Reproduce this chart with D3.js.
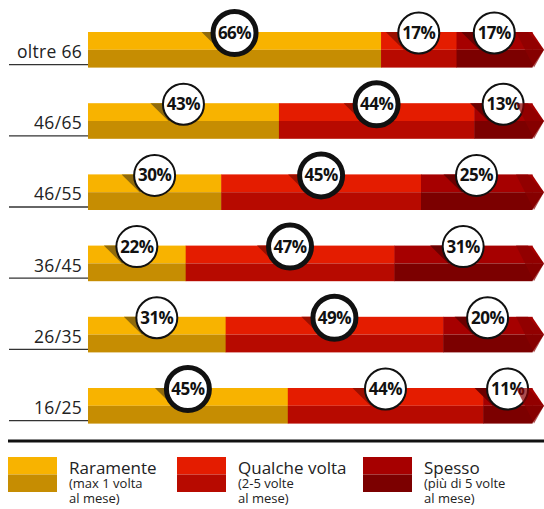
<!DOCTYPE html>
<html>
<head>
<meta charset="utf-8">
<script src="https://cdn.jsdelivr.net/npm/d3@7"></script>
<style>
  html, body { margin: 0; padding: 0; background: #fff; }
  svg { display: block; font-family: "Open Sans", sans-serif; }
  .age-label { font-size: 17.5px; fill: #222; letter-spacing: 0.3px; }
  .bubble-text { font-size: 17px; font-weight: 700; fill: #111; letter-spacing: -0.5px; }
  .legend-title { font-size: 17px; fill: #222; }
  .legend-sub { font-size: 13px; fill: #222; }
</style>
</head>
<body>
<svg id="chart" width="544" height="509"></svg>
<script>
"use strict";

// Data.
const ageGroups = ["oltre 66", "46/65", "46/55", "36/45", "26/35", "16/25"];
const raramente = [66, 43, 30, 22, 31, 45];
const qualcheVolta = [17, 44, 45, 47, 49, 44];
const spesso = [17, 13, 25, 31, 20, 11];

const seriesNames = ["Raramente", "Qualche volta", "Spesso"];
const seriesNotes = [
  ["(max 1 volta", "al mese)"],
  ["(2-5 volte", "al mese)"],
  ["(più di 5 volte", "al mese)"]
];

const palette = [
  { top: "#f8b300", bottom: "#c68d02", shadow: "#8f6a0c" },
  { top: "#e41c00", bottom: "#b70a00", shadow: "#9a0f00" },
  { top: "#a60000", bottom: "#7c0000", shadow: "#6a0000" }
];

const svg = d3.select("#chart");

const x = d3.scaleLinear().domain([0, 100]).range([88, 532]);
const y = d3.scaleBand()
    .domain(ageGroups)
    .range([32, 423.6])
    .paddingInner(0.5)
    .paddingOuter(0);
const bh = y.bandwidth();

// Build stacked rows.
const rows = ageGroups.map((g, i) => {
  const vals = [raramente[i], qualcheVolta[i], spesso[i]];
  const max = d3.max(vals);
  let acc = 0;
  const segs = vals.map((v, k) => {
    const s = { group: g, k: k, value: v, x0: acc, x1: acc + v, big: v === max };
    acc += v;
    return s;
  });
  return { group: g, segs: segs };
});

const row = svg.selectAll("g.row")
    .data(rows)
    .enter().append("g")
    .attr("class", "row")
    .attr("transform", (d) => "translate(0," + y(d.group) + ")");

// Label underline + label.
row.append("line")
    .attr("x1", 9).attr("x2", x(0))
    .attr("y1", bh - 3).attr("y2", bh - 3)
    .attr("stroke", "#333")
    .attr("stroke-width", 1.3);

row.append("text")
    .attr("class", "age-label")
    .attr("x", 82)
    .attr("y", bh - 9.5)
    .attr("text-anchor", "end")
    .text((d) => d.group);

// Segments: light upper half, dark lower half.
const seg = row.selectAll("g.seg")
    .data((d) => d.segs)
    .enter().append("g")
    .attr("class", "seg");

seg.append("rect")
    .attr("x", (d) => x(d.x0))
    .attr("width", (d) => x(d.x1) - x(d.x0) + 0.5)
    .attr("y", 0)
    .attr("height", bh / 2)
    .attr("fill", (d) => palette[d.k].top);

seg.append("rect")
    .attr("x", (d) => x(d.x0))
    .attr("width", (d) => x(d.x1) - x(d.x0) + 0.5)
    .attr("y", bh / 2)
    .attr("height", bh / 2)
    .attr("fill", (d) => palette[d.k].bottom);

// Arrow tip at the end of each bar.
const xEnd = x(100);
row.append("polygon")
    .attr("points", [[xEnd, 0], [xEnd + 12, bh / 2], [xEnd, bh / 2]].join(" "))
    .attr("fill", palette[2].top);
row.append("polygon")
    .attr("points", [[xEnd, bh / 2], [xEnd + 12, bh / 2], [xEnd, bh]].join(" "))
    .attr("fill", palette[2].bottom);
row.append("polygon")
    .attr("points", [[xEnd - 16, 0], [xEnd - 4, 0], [xEnd + 12, bh / 2], [xEnd + 2, bh]].join(" "))
    .attr("fill", "#8a0000")
    .attr("opacity", 0.7);

// Bubble shadows.
const cx = (d) => (x(d.x0) + x(d.x1)) / 2;
seg.append("polygon")
    .attr("points", (d) => [
      [cx(d) - 33, 0], [cx(d), 0], [cx(d), bh / 2], [cx(d) - 15, bh / 2]
    ].join(" "))
    .attr("fill", (d) => palette[d.k].shadow);

// Bubbles.
seg.append("circle")
    .attr("cx", cx)
    .attr("cy", 1)
    .attr("r", (d) => d.big ? 21.5 : 20.5)
    .attr("fill", "#fff")
    .attr("stroke", "#111")
    .attr("stroke-width", (d) => d.big ? 5 : 2);

seg.append("text")
    .attr("class", "bubble-text")
    .attr("x", cx)
    .attr("y", 7)
    .attr("text-anchor", "middle")
    .text((d) => d.value + "%");

// Legend.
svg.append("line")
    .attr("x1", 8).attr("x2", 544)
    .attr("y1", 441).attr("y2", 441)
    .attr("stroke", "#111")
    .attr("stroke-width", 3);

const legendX = [8, 177, 363];
const legend = svg.selectAll("g.legend")
    .data(seriesNames)
    .enter().append("g")
    .attr("class", "legend")
    .attr("transform", (d, i) => "translate(" + legendX[i] + ",457)");

legend.append("rect")
    .attr("width", 49).attr("height", 17.5)
    .attr("fill", (d, i) => palette[i].top);
legend.append("rect")
    .attr("y", 17.5)
    .attr("width", 49).attr("height", 17.5)
    .attr("fill", (d, i) => palette[i].bottom);

legend.append("text")
    .attr("class", "legend-title")
    .attr("x", 61)
    .attr("y", 17)
    .text((d) => d);

legend.each(function (d, i) {
  d3.select(this).selectAll("text.legend-sub")
      .data(seriesNotes[i])
      .enter().append("text")
      .attr("class", "legend-sub")
      .attr("x", 61)
      .attr("y", (t, j) => 31 + j * 15)
      .text((t) => t);
});
</script>
</body>
</html>
